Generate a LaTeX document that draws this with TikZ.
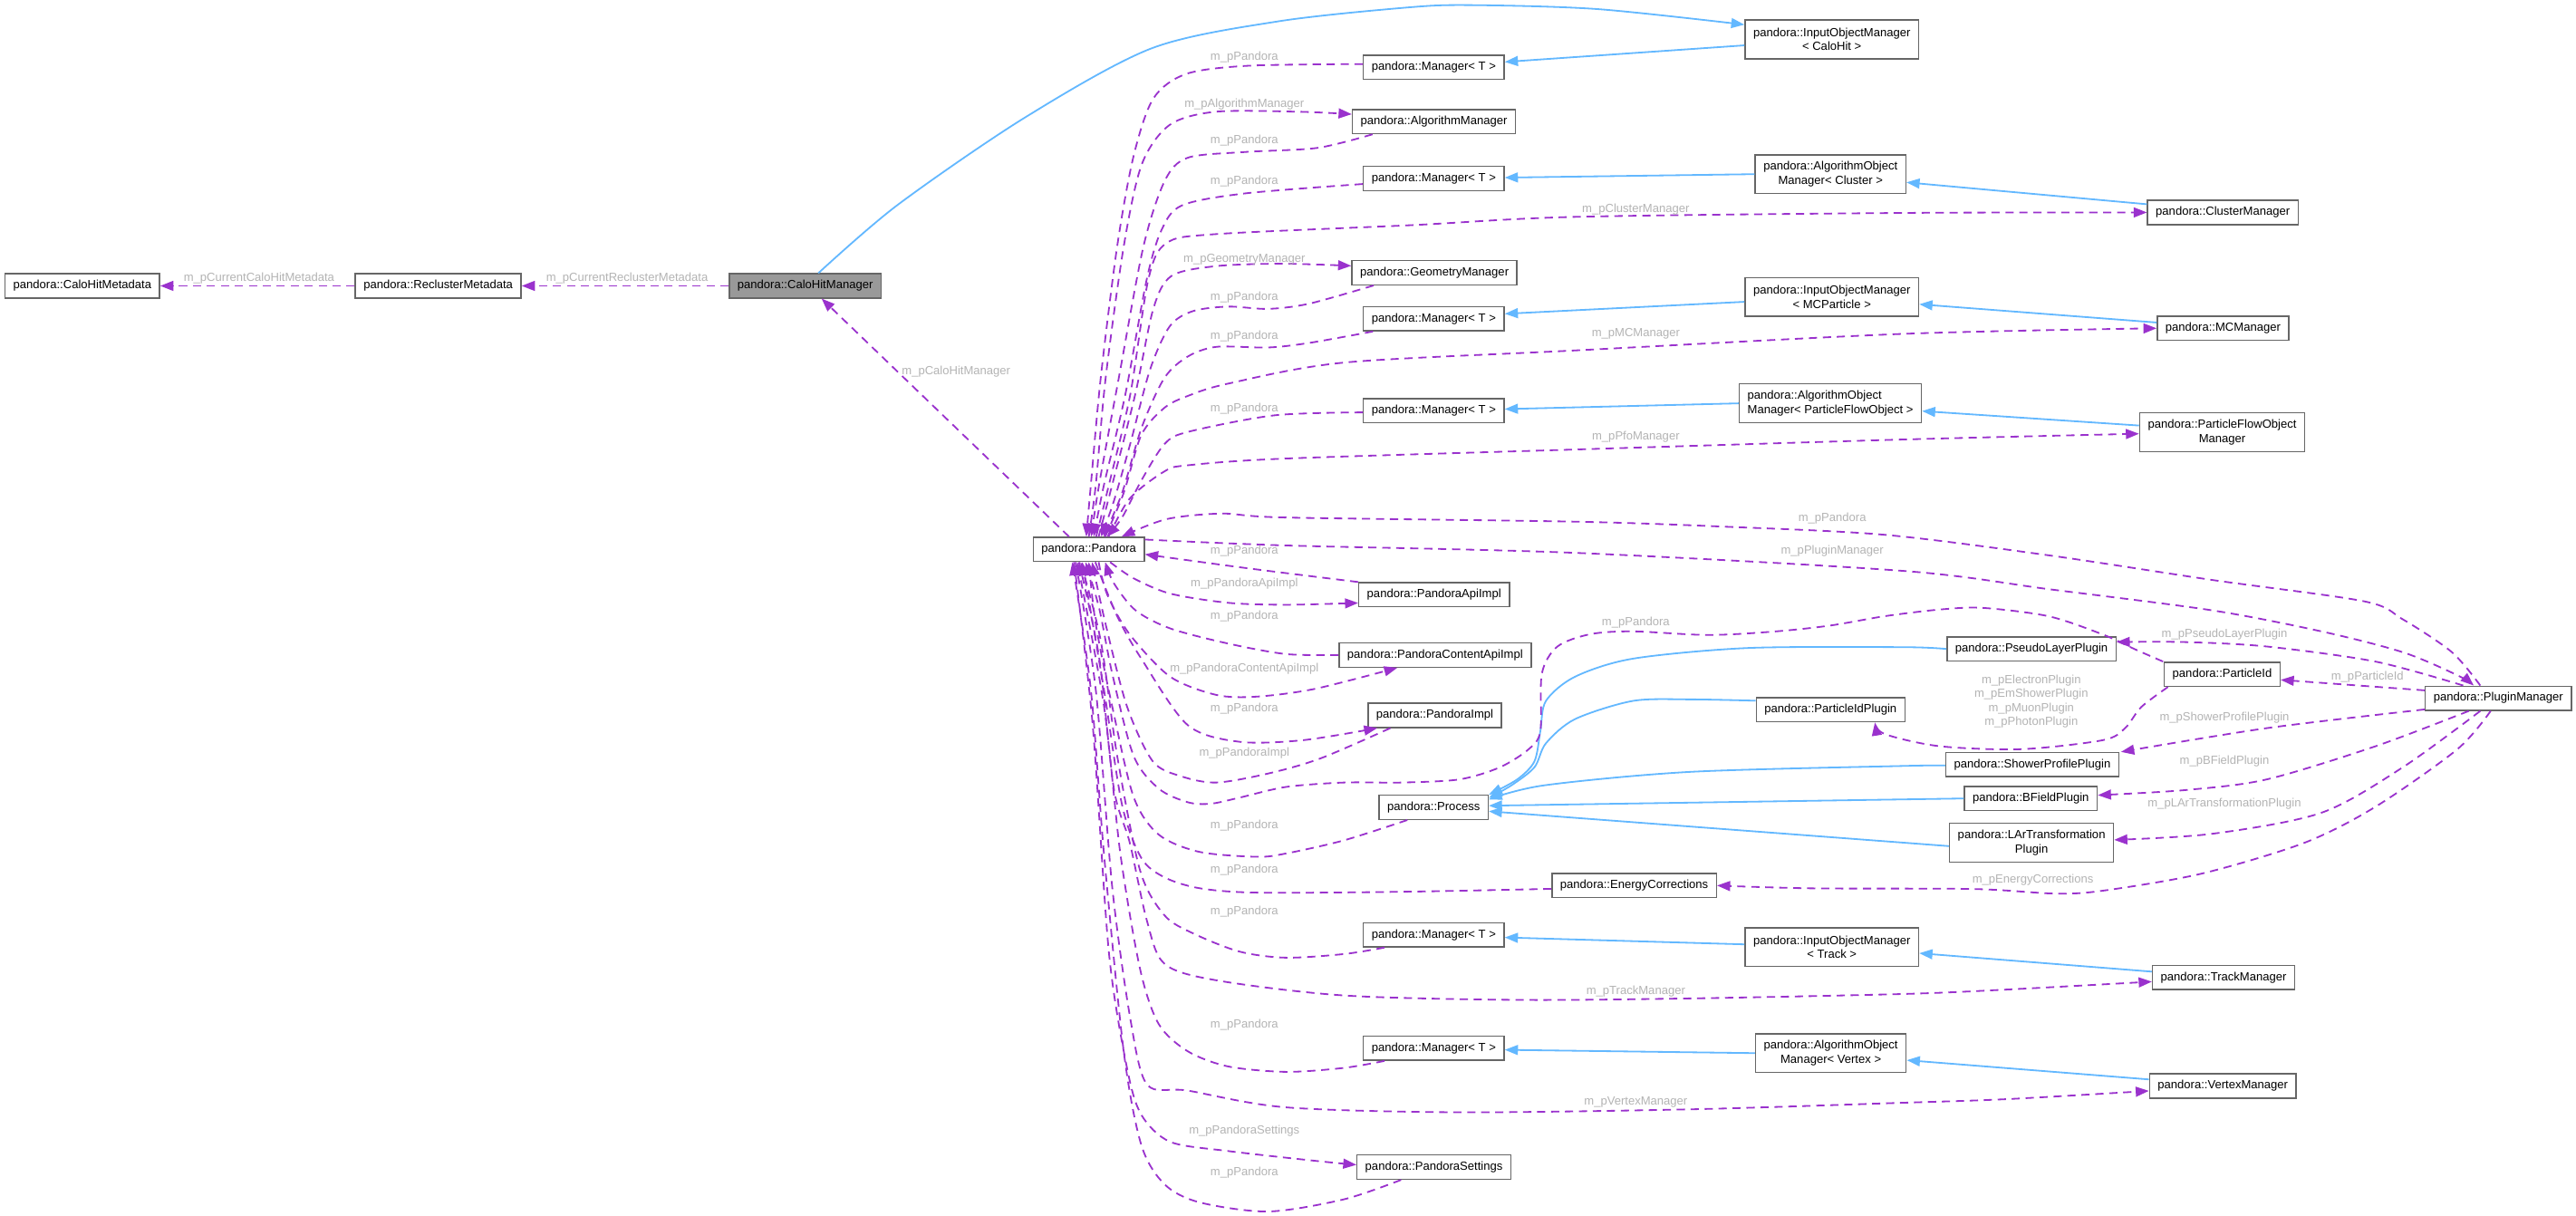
\documentclass[tikz,border=0pt]{standalone}
\usepackage{fontspec}
\setmainfont{Liberation Sans}
\usepackage{xcolor}
\usetikzlibrary{arrows.meta}
\definecolor{depcol}{HTML}{9A32CD}
\definecolor{inhcol}{HTML}{63B8FF}
\definecolor{lblcol}{HTML}{B4B4B4}
\definecolor{boxcol}{HTML}{666666}
\definecolor{chmfill}{HTML}{999999}
\newcommand{\dxfont}{\fontsize{7.2}{8.6}\selectfont}

\begin{document}
\begin{tikzpicture}[x=1pt, y=-1pt,
    cls/.style={draw=boxcol, line width=0.8pt, fill=white, anchor=west, inner xsep=5pt, inner ysep=0pt, minimum height=14.7pt, font=\dxfont, align=center},
    cls2/.style={cls, minimum height=23.6pt},
    dep/.style={depcol, line width=1pt, dash pattern=on 5pt off 3.5pt, -{Triangle[length=8pt,width=6pt]}},
    inh/.style={inhcol, line width=1pt, -{Triangle[length=8pt,width=6pt]}},
    lbl/.style={lblcol, font=\dxfont, inner sep=0pt, align=center}]
    \path[fill=white, use as bounding box] (0,0) rectangle (1568,740);

    \node[cls] (chmeta) at (2.7,174) {pandora::CaloHitMetadata};
    \node[cls] (recl) at (215.9,174) {pandora::ReclusterMetadata};
    \node[cls, fill=chmfill] (chm) at (443.5,174) {pandora::CaloHitManager};
    \node[cls2] (iomCalo) at (1061.8,24) {pandora::InputObjectManager\\< CaloHit >};
    \node[cls] (mgrA) at (829.5,41) {pandora::Manager< T >};
    \node[cls] (algMgr) at (822.8,74) {pandora::AlgorithmManager};
    \node[cls] (mgrB) at (829.5,108.6) {pandora::Manager< T >};
    \node[cls2] (aomCluster) at (1068,106) {pandora::AlgorithmObject\\Manager< Cluster >};
    \node[cls] (clusterMgr) at (1306.8,129.3) {pandora::ClusterManager};
    \node[cls] (geoMgr) at (822.5,166) {pandora::GeometryManager};
    \node[cls] (mgrC) at (829.5,194) {pandora::Manager< T >};
    \node[cls2] (iomMC) at (1061.8,180.7) {pandora::InputObjectManager\\< MCParticle >};
    \node[cls] (mcMgr) at (1312.7,199.8) {pandora::MCManager};
    \node[cls] (mgrD) at (829.5,250) {pandora::Manager< T >};
    \node[cls2, align=left] (aomPfo) at (1058.3,245.5) {pandora::AlgorithmObject\\Manager< ParticleFlowObject >};
    \node[cls2] (pfoMgr) at (1302,263) {pandora::ParticleFlowObject\\Manager};
    \node[cls] (pd) at (628.5,334.4) {pandora::Pandora};
    \node[cls] (apiImpl) at (826.7,362) {pandora::PandoraApiImpl};
    \node[cls] (contentApi) at (814.7,398.7) {pandora::PandoraContentApiImpl};
    \node[cls] (pdImpl) at (832.3,435.4) {pandora::PandoraImpl};
    \node[cls] (process) at (839,491.4) {pandora::Process};
    \node[cls] (pseudoLayer) at (1184.7,395) {pandora::PseudoLayerPlugin};
    \node[cls] (pidPlugin) at (1068.6,432) {pandora::ParticleIdPlugin};
    \node[cls] (particleId) at (1317,410.4) {pandora::ParticleId};
    \node[cls] (pluginMgr) at (1475.9,425) {pandora::PluginManager};
    \node[cls] (showerProfile) at (1184,465.4) {pandora::ShowerProfilePlugin};
    \node[cls] (bfield) at (1195.3,486) {pandora::BFieldPlugin};
    \node[cls2] (larTrans) at (1186.3,513) {pandora::LArTransformation\\Plugin};
    \node[cls] (energyCorr) at (944.3,539) {pandora::EnergyCorrections};
    \node[cls] (mgrE) at (829.5,569) {pandora::Manager< T >};
    \node[cls2] (iomTrack) at (1061.8,576.5) {pandora::InputObjectManager\\< Track >};
    \node[cls] (trackMgr) at (1309.8,595) {pandora::TrackManager};
    \node[cls] (mgrF) at (829.5,638) {pandora::Manager< T >};
    \node[cls2] (aomVertex) at (1068.2,641) {pandora::AlgorithmObject\\Manager< Vertex >};
    \node[cls] (vertexMgr) at (1308,661) {pandora::VertexManager};
    \node[cls] (settings) at (825.6,710.4) {pandora::PandoraSettings};

    \draw[inh] plot[smooth] coordinates {([xshift=8pt]chm.north) (546,125) (623.6,71.7) (701,29.4) (778,13) (856,4.6) (894.5,3.1) (972,5.5) ([yshift=9pt]iomCalo.west)};
    \draw[inh] ([yshift=-3.6pt]iomCalo.west) -- ([yshift=3.3pt]mgrA.east);
    \draw[inh] (aomCluster.west) -- ([yshift=0.5pt]mgrB.east);
    \draw[inh] ([yshift=5pt]clusterMgr.west) -- ([yshift=-5pt]aomCluster.east);
    \draw[inh] ([yshift=-3pt]iomMC.west) -- ([yshift=3pt]mgrC.east);
    \draw[inh] ([yshift=3.5pt]mcMgr.west) -- ([yshift=-4.5pt]iomMC.east);
    \draw[inh] (aomPfo.west) -- ([yshift=1pt]mgrD.east);
    \draw[inh] ([yshift=4pt]pfoMgr.west) -- ([yshift=-4.7pt]aomPfo.east);
    \draw[inh] ([yshift=1.7pt]iomTrack.west) -- ([yshift=-1.6pt]mgrE.east);
    \draw[inh] ([yshift=3.6pt]trackMgr.west) -- ([yshift=-3.7pt]iomTrack.east);
    \draw[inh] (aomVertex.west) -- ([yshift=-1pt]mgrF.east);
    \draw[inh] ([yshift=4pt]vertexMgr.west) -- ([yshift=-4.3pt]aomVertex.east);
    \draw[inh] plot[smooth] coordinates {(pseudoLayer.west) (1158.6,393.9) (1064.3,394.4) (994,400.9) (958.7,411.9) (941,426.6) (937.6,445) (934,463.4) (923.5,474.4) (process.north east)};
    \draw[inh] plot[smooth] coordinates {([yshift=5.5pt]pidPlugin.west) (1029,425.7) (994,426.6) (958.7,437.7) (941,452.4) (934,467) (920,478) ([yshift=-2pt]process.north east)};
    \draw[inh] plot[smooth] coordinates {([yshift=-0.5pt]showerProfile.west) (1158.6,466.2) (1029,469.8) (940,478) ([yshift=-3pt]process.north east)};
    \draw[inh] (bfield.west) -- ([yshift=1pt]process.east);
    \draw[inh] ([yshift=-2pt]larTrans.west) -- ([yshift=-2.4pt]process.east);

    \draw[dep] (chm.west) -- (recl.east);
    \draw[dep] (recl.west) -- (chmeta.east);
    \draw[dep] ([xshift=-12pt]pd.north) -- ([xshift=10pt]chm.south);

    \draw[dep] plot[smooth] coordinates {([yshift=2pt]mgrA.west) (760,40) (722,45) (702,60) (690,95) (680,150) (670,230) (664,295) ([xshift=-1.5pt]pd.north)};
    \draw[dep] plot[smooth] coordinates {(pd.north) (667,295) (673,230) (684,150) (695,100) (712,76) (740,68) (790,68) ([yshift=4.5pt]algMgr.west)};
    \draw[dep] plot[smooth] coordinates {([xshift=-37.4pt]algMgr.south) (802,90) (758,92.5) (723,96) (709,110) (696,150) (681,230) (669,295) ([xshift=1.5pt]pd.north)};
    \draw[dep] plot[smooth] coordinates {([yshift=-3.4pt]mgrB.west) (758,117.7) (719.5,125) (707,140) (698,170) (685,240) (672,295) ([xshift=3pt]pd.north)};
    \draw[dep] plot[smooth] coordinates {([xshift=4.5pt]pd.north) (675,295) (688,240) (699,170) (710,148) (740,142.5) (860,137) (958.7,132) (1158,129.6) (clusterMgr.west)};
    \draw[dep] plot[smooth] coordinates {([xshift=6pt]pd.north) (677,295) (691,240) (702,188) (713,168) (740,162) (780,160.5) ([yshift=4.2pt]geoMgr.west)};
    \draw[dep] plot[smooth] coordinates {([xshift=-37pt]geoMgr.south) (797,184.8) (772,188) (747.5,186.6) (726,189.4) (712,198.6) (700,225) (688,270) (678,305) ([xshift=7.5pt]pd.north)};
    \draw[dep] plot[smooth] coordinates {([xshift=-37pt]mgrC.south) (797,208.7) (772,211.5) (740.5,211.1) (723,217) (708.8,230) (695,260) (683,300) ([xshift=9pt]pd.north)};
    \draw[dep] plot[smooth] coordinates {([xshift=10pt]pd.north) (684,300) (694.7,264.8) (708.8,248.2) (723,241) (747.5,233.5) (818,220.7) (958.7,213.3) (1158.6,203.2) (mcMgr.west)};
    \draw[dep] plot[smooth] coordinates {([yshift=-1pt]mgrD.west) (775.7,252.8) (723,262.9) (708.8,270.3) (695,292) (683,315) ([xshift=11pt]pd.north)};
    \draw[dep] plot[smooth] coordinates {([xshift=12pt]pd.north) (687.7,303.4) (708.8,286.9) (723,283.2) (782.7,279.1) (958.7,273.6) (1158.6,267.5) ([yshift=-1pt]pfoMgr.west)};
    \draw[dep] plot[smooth] coordinates {([xshift=-11pt]pluginMgr.north) (1492.5,397) (1462.6,377) (1439,366) (1346.5,353) (1247,338) (1147,325.5) (1048,320.5) (958,317.5) (783,315) (744,312.6) (710,316) ([xshift=20pt]pd.north)};
    \draw[dep] plot[smooth] coordinates {([yshift=6pt]pd.east) (782.7,332) (958.7,336.5) (1158.6,347.5) (1247,358.6) (1346.5,371.5) (1413,384.3) (1462.6,397) (1495.8,411) ([xshift=-15pt]pluginMgr.north)};

    \draw[dep] plot[smooth] coordinates {(apiImpl.north west) (758,345.7) ([yshift=-3pt]pd.east)};
    \draw[dep] plot[smooth] coordinates {([xshift=13pt]pd.south) (690,352) (712.3,361.3) (747.5,366.9) (782.7,368.1) ([yshift=-5pt]apiImpl.west)};
    \draw[dep] plot[smooth] coordinates {(contentApi.west) (782.7,398.1) (747.5,391.7) (712.3,382.5) (691.2,371.5) (678,355) ([xshift=10pt]pd.south)};
    \draw[dep] plot[smooth] coordinates {([xshift=6pt]pd.south) (674,362) (687.7,386.2) (712.3,411.9) (740.5,423) (765,424) (800.3,419.3) ([xshift=-23pt]contentApi.south)};
    \draw[dep] plot[smooth] coordinates {([xshift=4pt]pd.south) (680,375) (694.7,400.9) (722.9,441.3) (754.5,451.5) (793.3,450.5) ([xshift=-35pt]pdImpl.south)};
    \draw[dep] plot[smooth] coordinates {([xshift=-27pt]pdImpl.south) (803.8,461.6) (772,470.8) (740.5,476.3) (719.3,472.6) (701.7,463.4) (686,430) (673,380) ([xshift=2pt]pd.south)};
    \draw[dep] plot[smooth] coordinates {([xshift=-16pt]process.south) (818,511.5) (782.7,519.5) (765,521.5) (730,518.5) (705.3,508) (690,485) (677,430) (667,380) (pd.south)};
    \draw[dep] plot[smooth] coordinates {([xshift=-36pt]particleId.north) (1300,395.4) (1280,386.2) (1247,375.1) (1207,370) (1180.7,371) (1147.5,375) (1114.3,380.7) (1081,384.3) (1040,386.5) (994,384.3) (968,386) (948,393.5) (938.5,410) (937.6,445) (930.5,456) (913,467) (888.3,474.4) (853,476.3) (818,476.3) (782.7,479) (754.5,485.5) (737,489.2) (723,488.3) (705.3,480) (690,460) (677,410) (669,370) ([xshift=-2pt]pd.south)};
    \draw[dep] plot[smooth] coordinates {([yshift=-2pt]energyCorr.west) (853,542.8) (765,543.3) (730,540.6) (708.8,534) (694.7,522.2) (683,490) (672,420) ([xshift=-4pt]pd.south)};
    \draw[dep] plot[smooth] coordinates {([xshift=-30pt]mgrE.south) (818,580.7) (782.7,582.9) (754.5,579.2) (726.4,568.2) (708.8,557.1) (694,530) (680,460) (670,390) ([xshift=-5pt]pd.south)};
    \draw[dep] plot[smooth] coordinates {([xshift=-6pt]pd.south) (669,400) (678,480) (687.7,513) (698,560) (708.8,586.6) (740.5,596.7) (818,605.9) (923.5,608.6) (1029,607.7) (1158.6,605) (1221.7,602.3) ([yshift=-2.5pt]trackMgr.west)};
    \draw[dep] plot[smooth] coordinates {([xshift=-30pt]mgrF.south) (818,650) (782.7,652.4) (747.5,649.1) (723,639.9) (705.3,623.3) (694,590) (682,520) (672,430) ([xshift=-7pt]pd.south)};
    \draw[dep] plot[smooth] coordinates {([xshift=-8pt]pd.south) (667,420) (677,540) (688,620) (698.2,660.1) (723,663.8) (782.7,674) (888.3,677) (1029,675.2) (1158.6,671.2) (1221.7,669) ([yshift=-3pt]vertexMgr.west)};
    \draw[dep] plot[smooth] coordinates {([xshift=-9pt]pd.south) (665,440) (675,580) (686,650) (694.7,678.5) (712.3,695) (747.5,700.6) (800,706.5) ([yshift=1.4pt]settings.west)};
    \draw[dep] plot[smooth] coordinates {([xshift=-20pt]settings.south) (818,730) (772,737.4) (730,731.8) (708.8,720.8) (694.7,696.9) (684,640) (672,520) (664,420) ([xshift=-10pt]pd.south)};

    \draw[dep] plot[smooth] coordinates {([xshift=-21.4pt]pluginMgr.north) (1446,402.7) (1379.7,393.5) (1330,390.8) ([yshift=4.2pt]pseudoLayer.east)};
    \draw[dep] ([yshift=4.8pt]pluginMgr.west) -- ([yshift=-3.4pt]particleId.east);
    \draw[dep] plot[smooth] coordinates {([xshift=-33pt]particleId.south) (1303.4,430.3) (1293.5,443.2) (1280,450.5) (1230.4,456) (1180.7,454.2) (1147.5,446.9) ([xshift=27pt]pidPlugin.south)};
    \draw[dep] plot[smooth] coordinates {([yshift=-6.8pt]pluginMgr.west) (1379.7,443.2) ([xshift=1pt]showerProfile.north east)};
    \draw[dep] plot[smooth] coordinates {([xshift=-18pt]pluginMgr.south) (1446,454.2) (1379.7,474.4) (1330,480.9) ([yshift=2pt]bfield.east)};
    \draw[dep] plot[smooth] coordinates {([xshift=-11pt]pluginMgr.south) (1462.6,467) (1413,494.7) (1346.5,507.5) ([yshift=1.8pt]larTrans.east)};
    \draw[dep] plot[smooth] coordinates {([xshift=-4.7pt]pluginMgr.south) (1495.8,456) (1446,491) (1402.6,513) (1340.3,531.7) (1281,542) (1251.4,543.9) (1201,541.1) (1103,540.7) (energyCorr.east)};

    \node[lbl] (lbMeta) at (157.7,169.6) {m\_pCurrentCaloHitMetadata};
    \node[lbl] (lbRecl) at (381.7,169.6) {m\_pCurrentReclusterMetadata};
    \node[lbl] (lbChm) at (582,226) {m\_pCaloHitManager};
    \node[lbl] (lbPdA) at (757.4,34.9) {m\_pPandora};
    \node[lbl] (lbAlg) at (757.4,63.4) {m\_pAlgorithmManager};
    \node[lbl] (lbPdB) at (757.4,85.5) {m\_pPandora};
    \node[lbl] (lbPdC) at (757.4,110.3) {m\_pPandora};
    \node[lbl] (lbCluster) at (995.7,127.4) {m\_pClusterManager};
    \node[lbl] (lbGeo) at (757.4,157.8) {m\_pGeometryManager};
    \node[lbl] (lbPdD) at (757.4,180.7) {m\_pPandora};
    \node[lbl] (lbPdE) at (757.4,204.5) {m\_pPandora};
    \node[lbl] (lbMC) at (995.7,203) {m\_pMCManager};
    \node[lbl] (lbPdF) at (757.4,248.6) {m\_pPandora};
    \node[lbl] (lbPfo) at (995.7,265.7) {m\_pPfoManager};
    \node[lbl] (lbPdG) at (1115.3,315.5) {m\_pPandora};
    \node[lbl] (lbPlugin) at (1115.3,335.4) {m\_pPluginManager};
    \node[lbl] (lbPdH) at (757.4,335.4) {m\_pPandora};
    \node[lbl] (lbApi) at (757.4,355.3) {m\_pPandoraApiImpl};
    \node[lbl] (lbPdI) at (757.4,375.1) {m\_pPandora};
    \node[lbl] (lbPdJ) at (995.7,378.8) {m\_pPandora};
    \node[lbl] (lbContent) at (757.4,407.1) {m\_pPandoraContentApiImpl};
    \node[lbl] (lbPdK) at (757.4,431.4) {m\_pPandora};
    \node[lbl] (lbImpl) at (757.4,458.4) {m\_pPandoraImpl};
    \node[lbl] (lbPdL) at (757.4,502.4) {m\_pPandora};
    \node[lbl] (lbPseudo) at (1354,386.2) {m\_pPseudoLayerPlugin};
    \node[lbl] (lbPid) at (1441,412) {m\_pParticleId};
    \node[lbl] (lbPidPlugins) at (1236.4,427) {m\_pElectronPlugin\\m\_pEmShowerPlugin\\m\_pMuonPlugin\\m\_pPhotonPlugin};
    \node[lbl] (lbShower) at (1354,436.7) {m\_pShowerProfilePlugin};
    \node[lbl] (lbBField) at (1354,463.2) {m\_pBFieldPlugin};
    \node[lbl] (lbLAr) at (1354,489.2) {m\_pLArTransformationPlugin};
    \node[lbl] (lbEnergy) at (1237.4,535.5) {m\_pEnergyCorrections};
    \node[lbl] (lbPdM) at (757.4,529.6) {m\_pPandora};
    \node[lbl] (lbPdN) at (757.4,555) {m\_pPandora};
    \node[lbl] (lbTrack) at (995.7,603.5) {m\_pTrackManager};
    \node[lbl] (lbPdO) at (757.4,623.7) {m\_pPandora};
    \node[lbl] (lbVertex) at (995.7,670.6) {m\_pVertexManager};
    \node[lbl] (lbSettings) at (757.4,688.3) {m\_pPandoraSettings};
    \node[lbl] (lbPdP) at (757.4,713.6) {m\_pPandora};
\end{tikzpicture}
\end{document}
